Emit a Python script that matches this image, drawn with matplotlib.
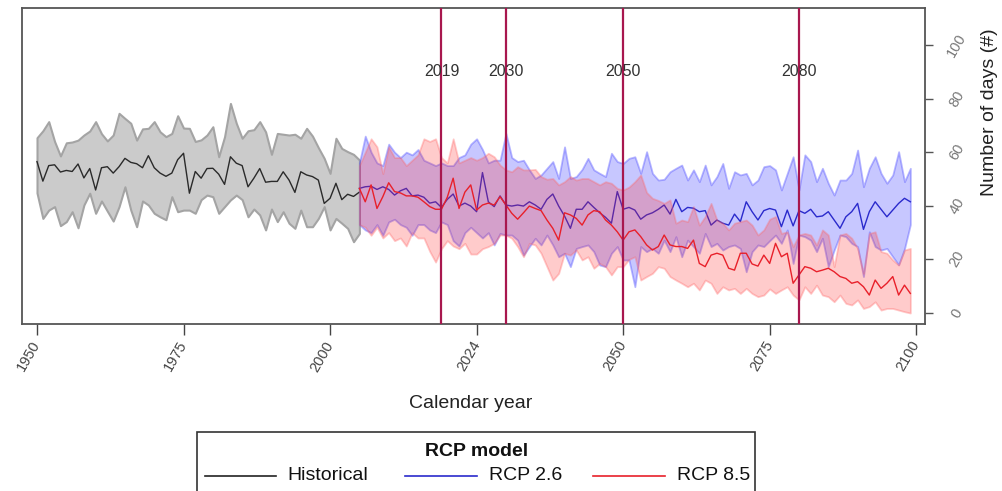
import numpy as np
import matplotlib
matplotlib.use("Agg")
import matplotlib.pyplot as plt
from matplotlib.lines import Line2D
from matplotlib.patches import Rectangle

plt.rcParams['font.family'] = ['Liberation Sans', 'DejaVu Sans']

# ---- historical run 1950-2005 ----
hist_years = np.arange(1950, 2006)
hist_mean = [56.5, 49.2, 55.0, 55.3, 52.6, 53.2, 52.8, 55.6, 50.4, 53.9,
             45.9, 54.2, 54.6, 52.2, 54.6, 57.7, 56.2, 55.7, 54.2, 58.7,
             54.2, 52.2, 51.0, 52.2, 57.2, 59.6, 44.7, 52.8, 50.3, 53.9,
             54.0, 51.8, 48.0, 58.3, 55.9, 55.0, 47.1, 50.3, 53.9, 48.8,
             49.1, 49.1, 52.7, 49.6, 45.0, 52.7, 51.5, 50.9, 49.6, 40.9,
             42.8, 48.4, 42.3, 44.3, 43.5, 45.1]
hist_hi = [65.4, 68.0, 71.4, 64.0, 58.6, 63.5, 63.8, 64.5, 66.4, 67.9,
           71.4, 66.9, 64.2, 66.4, 74.5, 72.6, 70.8, 64.5, 68.7, 68.9,
           71.4, 67.6, 65.8, 67.0, 73.6, 69.0, 68.9, 64.0, 64.6, 66.4,
           69.5, 58.3, 65.8, 78.2, 70.8, 65.2, 68.0, 68.4, 71.4, 67.6,
           59.2, 67.0, 66.7, 66.4, 66.7, 65.2, 68.9, 66.0, 61.7, 57.7,
           52.1, 65.2, 61.4, 60.2, 59.2, 57.1]
hist_lo = [44.8, 35.3, 38.4, 39.7, 32.6, 34.1, 37.8, 31.8, 40.3, 44.7,
           37.2, 41.8, 38.0, 34.3, 39.7, 47.1, 38.4, 32.2, 41.8, 40.3,
           37.2, 35.9, 34.8, 43.4, 37.8, 38.4, 38.4, 37.2, 42.3, 44.0,
           43.4, 37.2, 39.7, 42.2, 44.0, 42.3, 35.9, 38.8, 36.6, 31.0,
           38.8, 34.1, 37.8, 33.5, 31.6, 38.4, 32.2, 32.2, 35.3, 39.7,
           31.0, 35.3, 33.5, 31.6, 26.6, 29.7]

# ---- scenarios 2005-2099 ----
fut_years = np.arange(2005, 2100)
rcp26_mean = [46.5, 47.1, 47.3, 46.1, 47.1, 46.1, 44.0, 45.6, 46.5, 43.7,
              44.0, 43.2, 41.0, 41.5, 39.4, 42.4, 44.4, 39.9, 41.0, 39.9,
              37.8, 52.4, 41.5, 39.7, 43.7, 40.3, 39.9, 40.3, 39.9, 41.5,
              40.3, 38.7, 42.4, 44.4, 39.9, 36.2, 31.6, 38.7, 38.7, 41.5,
              39.4, 37.4, 35.7, 33.5, 45.3, 38.7, 39.4, 38.4, 35.0, 36.6,
              37.4, 38.7, 40.3, 36.9, 42.4, 37.8, 39.4, 39.1, 37.8, 38.2,
              32.8, 34.7, 33.5, 32.8, 36.9, 34.1, 41.5, 37.8, 34.7, 38.2,
              39.0, 38.4, 32.2, 38.4, 32.5, 38.2, 37.2, 38.7, 35.9, 36.2,
              37.8, 34.7, 31.6, 35.9, 37.8, 40.9, 31.2, 37.8, 41.5, 38.7,
              35.9, 38.4, 40.9, 42.8, 41.5]
rcp26_hi = [56.0, 66.0, 60.0, 56.0, 55.0, 63.0, 60.0, 58.0, 60.0, 59.0,
            61.0, 57.0, 56.0, 55.0, 56.0, 55.0, 55.0, 58.0, 59.0, 63.0,
            65.0, 61.0, 56.0, 57.0, 57.0, 67.0, 58.0, 56.5, 57.0, 53.4,
            50.2, 51.5, 54.0, 56.5, 50.2, 62.0, 50.2, 50.9, 53.6, 57.7,
            53.4, 52.1, 50.9, 59.6, 56.5, 55.8, 57.7, 58.3, 52.1, 60.2,
            52.1, 49.6, 49.9, 52.7, 54.0, 55.2, 49.6, 53.4, 49.0, 55.2,
            47.8, 50.9, 55.8, 46.5, 52.7, 51.5, 52.1, 47.8, 49.6, 54.6,
            55.0, 53.4, 45.9, 52.1, 58.3, 45.9, 59.0, 56.5, 49.0, 54.0,
            48.4, 44.0, 49.6, 49.6, 52.1, 60.8, 47.1, 54.0, 58.3, 52.1,
            48.4, 51.5, 60.2, 49.0, 54.0]
rcp26_lo = [33.0, 31.0, 30.0, 33.0, 29.0, 34.0, 35.0, 33.0, 32.0, 29.0,
            33.0, 33.0, 31.0, 30.0, 34.0, 33.0, 27.0, 25.0, 30.0, 32.0,
            30.0, 28.0, 30.0, 25.4, 29.7, 29.1, 29.1, 27.2, 21.6, 24.8,
            27.9, 25.4, 29.1, 25.4, 21.0, 22.3, 17.3, 24.1, 24.8, 25.4,
            22.9, 17.9, 17.3, 22.3, 24.8, 19.8, 19.8, 9.8, 24.8, 22.9,
            24.1, 22.3, 27.2, 22.9, 28.5, 21.0, 27.2, 24.8, 22.3, 29.7,
            24.8, 26.0, 23.5, 24.8, 25.4, 24.1, 15.4, 22.9, 25.4, 24.8,
            27.0, 29.1, 26.0, 31.0, 18.5, 29.1, 28.5, 27.2, 22.9, 27.9,
            17.3, 23.5, 29.1, 28.5, 26.0, 24.8, 13.6, 30.3, 24.8, 23.5,
            24.1, 21.0, 18.0, 24.0, 33.0]
rcp85_mean = [46.5, 41.5, 47.8, 39.0, 43.4, 48.6, 45.3, 44.8, 43.7, 43.7,
              43.2, 41.5, 39.7, 38.7, 38.7, 43.2, 50.3, 39.0, 45.1, 47.8,
              38.4, 40.3, 41.0, 40.3, 43.4, 40.3, 37.2, 35.0, 37.4, 39.9,
              39.0, 38.2, 34.7, 31.6, 27.2, 37.4, 36.6, 35.3, 32.8, 36.6,
              38.2, 37.8, 34.7, 32.8, 30.3, 27.2, 30.3, 31.0, 28.5, 25.4,
              23.5, 24.8, 29.1, 25.4, 24.8, 24.8, 24.1, 27.2, 18.5, 17.3,
              21.6, 22.3, 21.6, 16.7, 16.0, 22.3, 22.3, 18.3, 17.5, 21.6,
              18.5, 26.0, 21.0, 22.3, 11.1, 14.2, 17.3, 16.7, 15.4, 16.0,
              16.7, 15.4, 13.6, 12.9, 11.1, 11.7, 9.8, 6.7, 12.3, 9.2,
              11.1, 13.6, 6.7, 10.4, 7.3]
rcp85_hi = [55.0, 60.0, 65.0, 62.0, 52.0, 62.0, 58.0, 58.0, 55.0, 57.0,
            59.0, 65.0, 64.0, 65.0, 58.0, 56.0, 65.0, 56.0, 57.0, 58.0,
            57.0, 58.0, 59.6, 58.3, 55.2, 53.4, 52.7, 54.6, 53.4, 53.4,
            53.6, 50.9, 49.9, 50.2, 47.8, 49.0, 50.9, 49.6, 50.2, 50.2,
            49.0, 47.8, 49.0, 48.4, 46.5, 45.9, 47.0, 49.0, 51.5, 45.0,
            42.8, 42.0, 40.9, 42.2, 33.5, 34.7, 34.1, 39.7, 32.8, 36.0,
            40.9, 34.7, 33.5, 31.0, 33.5, 34.1, 34.7, 32.8, 29.1, 31.0,
            35.0, 36.0, 29.7, 30.3, 24.8, 29.1, 29.7, 29.1, 25.4, 31.0,
            29.1, 17.3, 29.1, 29.7, 27.9, 24.1, 14.8, 29.7, 30.3, 22.9,
            22.3, 19.8, 17.9, 23.5, 24.1]
rcp85_lo = [33.0, 32.0, 29.0, 32.0, 28.0, 30.0, 27.0, 28.0, 25.0, 30.0,
            28.0, 28.0, 23.0, 19.0, 24.0, 27.0, 25.0, 24.0, 26.0, 22.0,
            22.0, 24.0, 24.8, 26.0, 29.1, 29.1, 27.9, 24.8, 21.0, 26.0,
            25.4, 22.3, 17.3, 12.3, 14.8, 22.3, 21.6, 23.5, 19.8, 21.0,
            16.7, 18.5, 17.3, 14.2, 17.3, 17.3, 20.0, 21.0, 12.3, 13.6,
            14.8, 17.3, 16.7, 13.6, 12.3, 11.1, 9.8, 11.1, 8.6, 12.3,
            11.1, 7.3, 9.8, 8.6, 9.2, 7.3, 9.2, 7.3, 6.1, 6.7,
            9.0, 7.3, 8.6, 9.8, 6.7, 4.9, 9.8, 7.3, 10.4, 6.7,
            6.1, 4.2, 6.7, 3.6, 3.0, 4.9, 1.7, 2.4, 4.2, 1.1,
            1.7, 1.7, 1.1, 0.5, 0.0]

marker_years = [2019, 2030, 2050, 2080]
xtick_pos = [1950, 1975, 2000, 2025, 2050, 2075, 2100]
xtick_labels = ['1950', '1975', '2000', '2024', '2050', '2075', '2100']
ytick_pos = [0, 20, 40, 60, 80, 100]
legend_labels = ['Historical', 'RCP 2.6', 'RCP 8.5']

W, H = 1003, 491
fig = plt.figure(figsize=(W / 100, H / 100), dpi=100)
ax = fig.add_axes([22 / W, 1 - 324 / H, (925 - 22) / W, (324 - 8) / H])

# bands
ax.fill_between(hist_years, hist_lo, hist_hi, facecolor='#cbcbcb',
                edgecolor='#a4a4a4', linewidth=1.5, zorder=1)
ax.plot(hist_years, hist_mean, color='#2a2a2a', lw=1.0, zorder=2)
ax.fill_between(fut_years, rcp26_lo, rcp26_hi, facecolor=(0, 0, 1, 0.22),
                edgecolor=(0.3, 0.3, 1, 0.4), linewidth=1.3, zorder=3)
ax.plot(fut_years, rcp26_mean, color='#2a2acc', lw=1.0, zorder=4)
ax.fill_between(fut_years, rcp85_lo, rcp85_hi, facecolor=(1, 0.15, 0.15, 0.24),
                edgecolor=(1, 0.4, 0.4, 0.35), linewidth=1.3, zorder=5)
ax.plot(fut_years, rcp85_mean, color='#e8202a', lw=1.0, zorder=6)

for yr in marker_years:
    ax.axvline(yr, color='#a8174e', lw=1.6, zorder=7)
    ax.text(yr, 90, str(yr), ha='center', va='center', fontsize=11.5,
            color='#333333', zorder=8)

ax.set_xlim(1947.44, 2101.5)
ax.set_ylim(-4.1, 113.8)

for s in ax.spines.values():
    s.set_color('#555555')
    s.set_linewidth(1.3)

ax.set_xticks(xtick_pos)
ax.set_xticklabels(xtick_labels, rotation=60, ha='right', va='center',
                   rotation_mode='anchor', fontsize=10.5, color='#444444')
ax.tick_params(axis='x', direction='out', length=8, width=1, color='#444444', pad=5)

ax.yaxis.tick_right()
ax.set_yticks(ytick_pos)
ax.set_yticklabels([str(v) for v in ytick_pos], rotation=60, ha='center',
                   va='center', fontsize=10.5, color='#777777')
ax.tick_params(axis='y', direction='out', length=6, width=1, color='#555555', pad=17)

fig.text(990 / W, 1 - 112 / H, 'Number of days (#)', rotation=90, ha='center',
         va='center', fontsize=14, color='#222222')
fig.text(471 / W, 1 - 403 / H, 'Calendar year', ha='center', va='center',
         fontsize=14, color='#222222')

# legend box (cut by the bottom of the figure, as in the original)
def fx(px):
    return px / W

def fy(py):
    return 1 - py / H

fig.add_artist(Rectangle((fx(197), fy(510)), fx(755) - fx(197), fy(432) - fy(510),
                         transform=fig.transFigure, facecolor='white',
                         edgecolor='#333333', linewidth=1.2))
fig.text(fx(477), fy(452), 'RCP model', ha='center', va='center',
         fontsize=14, fontweight='bold', color='#111111')
leg_cols = ['#222222', '#2a2acc', '#e8202a']
leg_line_x = [(205, 276), (405, 477), (593, 665)]
leg_text_x = [287, 489, 677]
for lab, c, (x0, x1), tx in zip(legend_labels, leg_cols, leg_line_x, leg_text_x):
    fig.add_artist(Line2D([fx(x0), fx(x1)], [fy(476), fy(476)],
                          transform=fig.transFigure, color=c, lw=1.2))
    fig.text(fx(tx), fy(476), lab, ha='left', va='center', fontsize=14,
             color='#111111')

fig.savefig('out.png', dpi=100)
